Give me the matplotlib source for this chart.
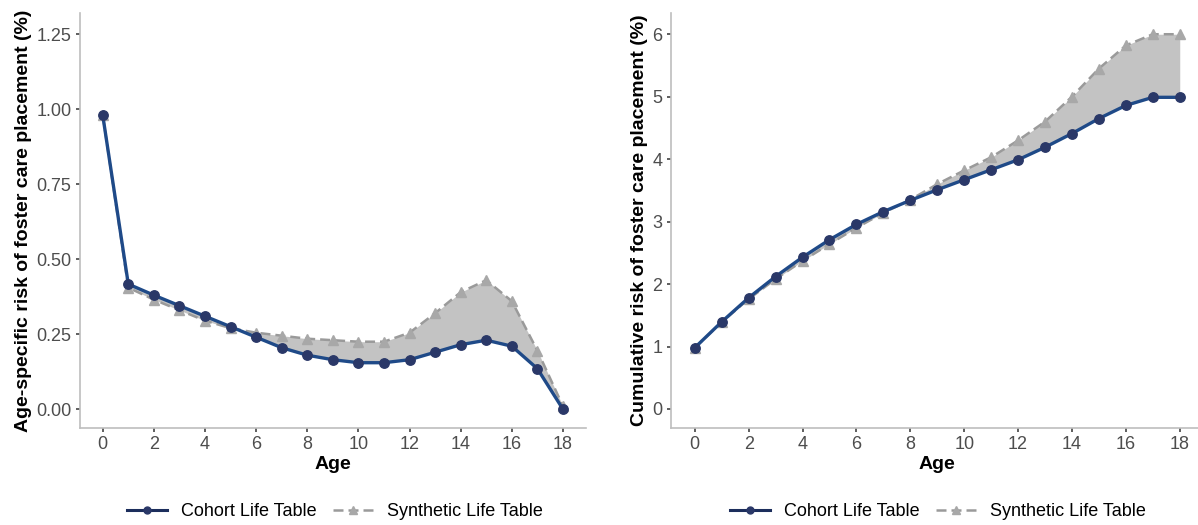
import matplotlib
matplotlib.use("Agg")
import matplotlib.pyplot as plt
from matplotlib.lines import Line2D

plt.rcParams['font.family'] = ['Liberation Sans', 'DejaVu Sans']

ages = list(range(0, 19))

# Age-specific risk (%)
cohort_age = [0.98, 0.417, 0.38, 0.345, 0.31, 0.275, 0.24, 0.205, 0.18, 0.165,
              0.155, 0.155, 0.165, 0.19, 0.215, 0.23, 0.21, 0.135, 0.0]
synth_age = [0.98, 0.405, 0.365, 0.33, 0.295, 0.27, 0.255, 0.245, 0.235, 0.23,
             0.225, 0.225, 0.255, 0.32, 0.39, 0.43, 0.36, 0.195, 0.01]

# Cumulative risk (%)
cohort_cum = [0.98, 1.395, 1.78, 2.12, 2.43, 2.71, 2.955, 3.16, 3.34, 3.51,
              3.67, 3.83, 3.99, 4.19, 4.41, 4.65, 4.86, 4.99, 4.99]
synth_cum = [0.98, 1.39, 1.76, 2.08, 2.37, 2.64, 2.9, 3.14, 3.35, 3.6,
             3.82, 4.03, 4.3, 4.6, 5.0, 5.45, 5.82, 6.0, 6.0]

xticks = [0, 2, 4, 6, 8, 10, 12, 14, 16, 18]
yticks_left = [0.0, 0.25, 0.5, 0.75, 1.0, 1.25]
yticks_left_labels = ["0.00", "0.25", "0.50", "0.75", "1.00", "1.25"]
yticks_right = [0, 1, 2, 3, 4, 5, 6]

ylabel_left = "Age-specific risk of foster care placement (%)"
ylabel_right = "Cumulative risk of foster care placement (%)"
xlabel = "Age"
series_names = ["Cohort Life Table", "Synthetic Life Table"]

COH_LINE = "#1F4A88"
COH_MARK = "#2A3868"
SYN_LINE = "#9A9A9A"
SYN_MARK = "#A8A8A8"
FILL = "#BDBDBD"
AXIS = "#BEBEBE"
TICKTXT = "#4D4D4D"

W, H = 1198, 525
fig = plt.figure(figsize=(W / 100, H / 100), dpi=100)

def px_axes(x0, x1, ytop, ybot):
    return fig.add_axes([x0 / W, 1 - ybot / H, (x1 - x0) / W, (ybot - ytop) / H])

axL = px_axes(79.7, 586.0, 13, 427.7)
axR = px_axes(670.5, 1204.0, 13, 427.7)

def draw(ax, coh, syn, ylim, yticks, ylabels, ylab):
    ax.fill_between(ages, coh, syn, color=FILL, alpha=0.9, linewidth=0, zorder=1)
    ax.plot(ages, syn, color=SYN_LINE, linestyle=(0, (4, 2)), linewidth=1.8,
            marker='^', markersize=7.5, markerfacecolor=SYN_MARK,
            markeredgecolor=SYN_MARK, zorder=2)
    ax.plot(ages, coh, color=COH_LINE, linewidth=2.4,
            marker='o', markersize=6.8, markerfacecolor=COH_MARK,
            markeredgecolor=COH_MARK, zorder=3)
    ax.set_xlim(-0.9, 18.9)
    ax.set_ylim(*ylim)
    ax.set_xticks(xticks)
    ax.set_yticks(yticks)
    ax.set_yticklabels(ylabels)
    for s in ['top', 'right']:
        ax.spines[s].set_visible(False)
    for s in ['left', 'bottom']:
        ax.spines[s].set_color(AXIS)
        ax.spines[s].set_linewidth(1.2)
    ax.tick_params(axis='both', colors="#333333", labelcolor=TICKTXT,
                   labelsize=13, length=3, width=1.1, pad=3)
    ax.set_xlabel(xlabel, fontsize=14, fontweight='bold', labelpad=2)
    ax.set_ylabel(ylab, fontsize=14, fontweight='bold', labelpad=3)

draw(axL, cohort_age, synth_age, (-0.0615, 1.32), yticks_left, yticks_left_labels, ylabel_left)
draw(axR, cohort_cum, synth_cum, (-0.3, 6.34), yticks_right, [str(v) for v in yticks_right], ylabel_right)

handles = [
    Line2D([0], [0], color="#1C2E5C", linewidth=2.2, marker='o', markersize=5,
           markerfacecolor=COH_MARK, markeredgecolor=COH_MARK),
    Line2D([0], [0], color=SYN_LINE, linewidth=1.8, linestyle=(0, (4, 2)), marker='^',
           markersize=6, markerfacecolor=SYN_MARK, markeredgecolor=SYN_MARK),
]

for cx in (335, 938):
    fig.legend(handles, series_names, loc='center', bbox_to_anchor=(cx / W, 1 - 512 / H),
               ncol=2, frameon=False, fontsize=13, handlelength=2.2, handletextpad=0.8,
               columnspacing=0.9)

fig.savefig("out.png", dpi=100, facecolor='white')
